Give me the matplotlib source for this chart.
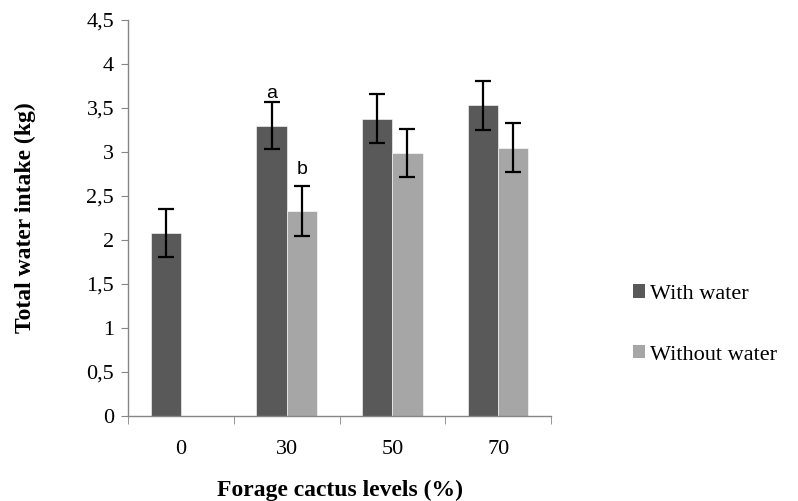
import matplotlib
matplotlib.use("Agg")
import matplotlib.pyplot as plt
import numpy as np
from matplotlib.patches import Patch
from matplotlib.ticker import FuncFormatter, FixedLocator

levels = ["0", "30", "50", "70"]
with_water = [2.08, 3.30, 3.38, 3.53]
with_err = [0.27, 0.27, 0.275, 0.275]
without_water = [np.nan, 2.33, 2.99, 3.05]
without_err = [np.nan, 0.28, 0.275, 0.275]
letters_with = ["", "a", "", ""]
letters_without = ["", "b", "", ""]

DARK = "#595959"
LIGHT = "#a6a6a6"
AXIS = "#868686"
SERIF = ["Liberation Serif", "DejaVu Serif"]
FS = 16


def main():
    fig = plt.figure(figsize=(7.98, 5.01), dpi=100)
    ax = fig.add_axes([0.1604, 0.1697, 0.5301, 0.7903])

    x = np.arange(len(levels))
    w = 0.285
    ax.bar(x - w / 2, with_water, w, color=DARK, edgecolor="white", linewidth=0.4)
    ax.bar(x + w / 2, without_water, w, color=LIGHT, edgecolor="white", linewidth=0.4)
    ax.errorbar(x - w / 2, with_water, yerr=with_err, fmt="none", ecolor="black",
                elinewidth=1.6, capsize=5.5, capthick=1.6)
    ax.errorbar(x + w / 2, without_water, yerr=without_err, fmt="none", ecolor="black",
                elinewidth=1.6, capsize=5.5, capthick=1.6)

    for i in range(len(levels)):
        if letters_with[i]:
            ax.text(x[i] - w / 2, with_water[i] + with_err[i] + 0.0, letters_with[i],
                    ha="center", va="bottom", fontsize=14, family="Liberation Sans")
        if letters_without[i]:
            ax.text(x[i] + w / 2, without_water[i] + without_err[i] + 0.1, letters_without[i],
                    ha="center", va="bottom", fontsize=14, family="Liberation Sans")

    ax.set_xlim(-0.5, len(levels) - 0.5)
    ax.set_ylim(0, 4.5)
    ax.set_yticks(np.arange(0, 4.51, 0.5))
    ax.yaxis.set_major_formatter(FuncFormatter(lambda v, p: ("%g" % v).replace(".", ",")))
    ax.set_xticks(x)
    ax.set_xticklabels(levels)
    ax.xaxis.set_minor_locator(FixedLocator(np.arange(-0.5, len(levels), 1.0)))
    ax.tick_params(axis="x", which="major", length=0, pad=17)
    ax.tick_params(axis="x", which="minor", length=6, color=AXIS, direction="out")
    ax.tick_params(axis="y", length=5, color=AXIS, direction="out", pad=5)

    for lab in ax.get_xticklabels() + ax.get_yticklabels():
        lab.set_family(SERIF)
        lab.set_fontsize(FS)

    for s in ["top", "right"]:
        ax.spines[s].set_visible(False)
    for s in ["left", "bottom"]:
        ax.spines[s].set_color(AXIS)
        ax.spines[s].set_linewidth(1.0)

    ax.set_ylabel("Total water intake (kg)", family=SERIF, fontsize=17,
                  fontweight="bold", labelpad=36)
    ax.set_xlabel("Forage cactus levels (%)", family=SERIF, fontsize=17,
                  fontweight="bold", labelpad=15)

    handles = [Patch(facecolor=DARK), Patch(facecolor=LIGHT)]
    ax.legend(handles, ["With water", "Without water"], loc="center left",
              bbox_to_anchor=(1.147, 0.231), frameon=False, handlelength=0.55,
              handleheight=0.55, handletextpad=0.2, labelspacing=1.85,
              prop={"family": SERIF, "size": FS})

    fig.savefig("out.png", dpi=100)


if __name__ == "__main__":
    main()
